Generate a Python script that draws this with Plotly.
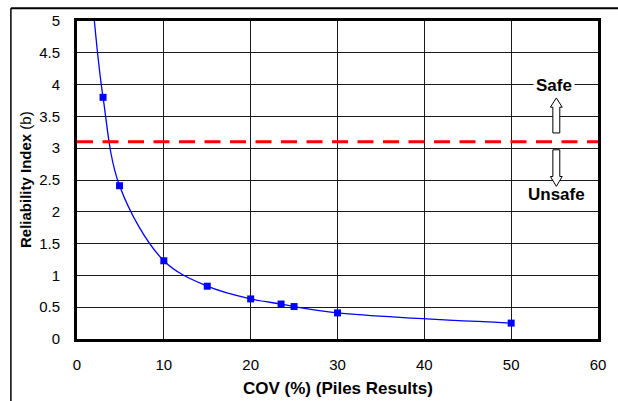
import plotly.graph_objects as go

# Data
cov = [2.0, 3.0, 4.9, 10.0, 15.0, 20.0, 23.5, 25.0, 30.0, 50.0]
beta = [5.0, 3.80, 2.41, 1.23, 0.83, 0.63, 0.55, 0.51, 0.41, 0.25]
marker_cov = cov[1:]
marker_beta = beta[1:]
target_beta = 3.1
x_ticks = [0, 10, 20, 30, 40, 50, 60]
y_ticks = [0, 0.5, 1, 1.5, 2, 2.5, 3, 3.5, 4, 4.5, 5]

FONT = "Liberation Sans, Arial, sans-serif"

fig = go.Figure()
fig.add_trace(go.Scatter(x=cov, y=beta, mode="lines",
                         line=dict(color="#0000FF", width=1.3, shape="spline", smoothing=1.0),
                         hoverinfo="skip", showlegend=False))
fig.add_trace(go.Scatter(x=marker_cov, y=marker_beta, mode="markers",
                         marker=dict(symbol="square", size=7, color="#0000FF"),
                         showlegend=False))

# Target reliability (dashed red)
fig.add_shape(type="line", xref="paper", x0=0, x1=1, yref="y", y0=target_beta, y1=target_beta,
              line=dict(color="#FF0000", width=3, dash="16px,9.5px"), layer="above")

# Hollow arrows
def arrow_path(xc, y_base, y_tip, y_head, hw_shaft, hw_head):
    return (f"M {xc-hw_shaft},{y_base} L {xc-hw_shaft},{y_head} L {xc-hw_head},{y_head} "
            f"L {xc},{y_tip} L {xc+hw_head},{y_head} L {xc+hw_shaft},{y_head} "
            f"L {xc+hw_shaft},{y_base} Z")

fig.add_shape(type="path", xref="x", yref="y",
              path=arrow_path(55.2, 3.24, 3.79, 3.645, 0.4, 0.68),
              fillcolor="white", line=dict(color="black", width=1))
fig.add_shape(type="path", xref="x", yref="y",
              path=arrow_path(55.2, 2.975, 2.40, 2.555, 0.4, 0.68),
              fillcolor="white", line=dict(color="black", width=1))

fig.add_annotation(x=54.9, y=3.99, text="<b>Safe</b>", showarrow=False,
                   font=dict(family=FONT, size=17, color="black"), bgcolor="white",
                   borderpad=2)
fig.add_annotation(x=55.2, y=2.27, text="<b>Unsafe</b>", showarrow=False,
                   font=dict(family=FONT, size=17, color="black"))

# Axis titles
fig.add_annotation(xref="paper", yref="paper", x=0.5, y=0, yshift=-49, showarrow=False,
                   text="<b>COV (%) (Piles Results)</b>", yanchor="middle",
                   font=dict(family=FONT, size=17, color="black"))
fig.add_annotation(xref="paper", yref="paper", x=0, y=0.5, xshift=-52, showarrow=False,
                   text="<b>Reliability Index</b> (b)", textangle=-90, xanchor="center",
                   font=dict(family=FONT, size=15, color="black"))

# Outer frame (top and left edges visible)
fig.add_shape(type="line", xref="paper", yref="paper", x0=-0.1269, x1=1.05, y0=1.04, y1=1.04,
              line=dict(color="black", width=2))
fig.add_shape(type="line", xref="paper", yref="paper", x0=-0.1269, x1=-0.1269, y0=-0.2, y1=1.04,
              line=dict(color="black", width=1.5))

fig.update_xaxes(range=[0, 60], tickvals=x_ticks, ticks="", showgrid=True, gridcolor="#1a1a1a",
                 gridwidth=1, showline=True, linecolor="black", linewidth=3, mirror=True,
                 zeroline=False, tickfont=dict(family=FONT, size=15, color="black"),
                 ticklabelstandoff=10)
fig.update_yaxes(range=[0, 5], tickvals=y_ticks, ticks="", showgrid=True, gridcolor="#1a1a1a",
                 gridwidth=1, showline=True, linecolor="black", linewidth=3, mirror=True,
                 zeroline=False, tickfont=dict(family=FONT, size=15, color="black"),
                 ticklabelstandoff=11)

fig.update_layout(width=618, height=401, paper_bgcolor="white", plot_bgcolor="white",
                  margin=dict(l=77, r=13, t=18, b=62), showlegend=False)

fig.write_html("out.html", config={"displayModeBar": False},
               post_script="document.body.style.margin='0';")
